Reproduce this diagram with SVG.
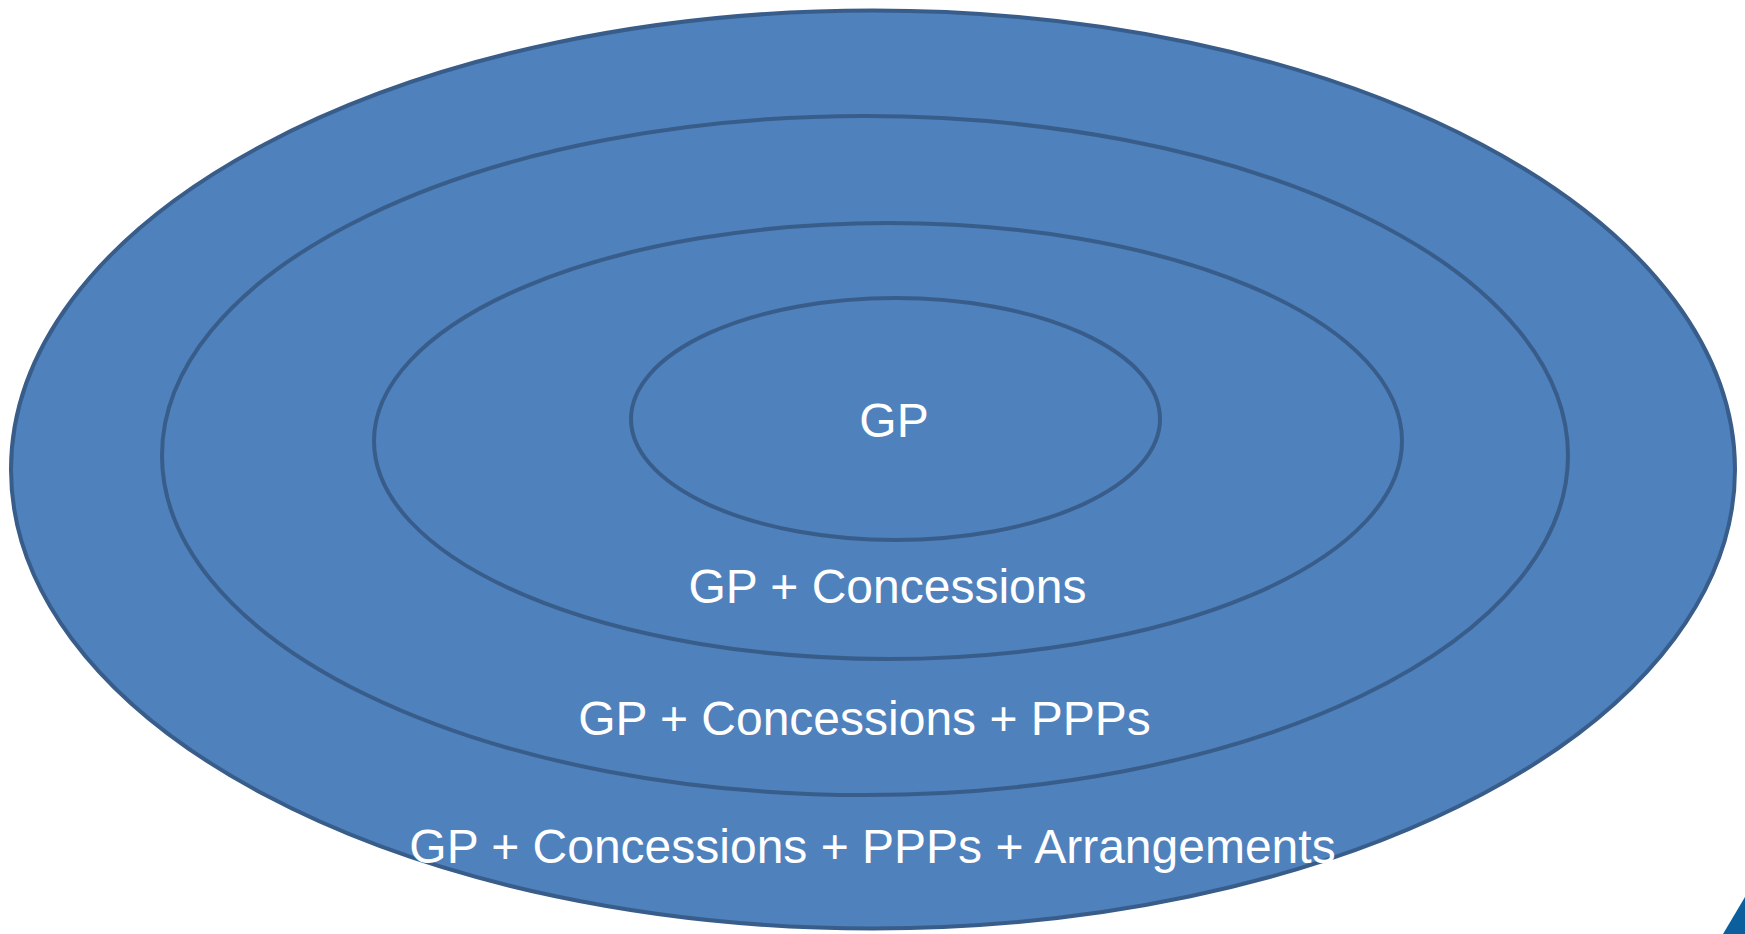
<svg xmlns="http://www.w3.org/2000/svg" width="1745" height="934" viewBox="0 0 1745 934">
<style>
.ring{fill:#4F81BD;stroke:#385D8A;stroke-width:4}
.lbl{font-family:"Liberation Sans",Arial,sans-serif;font-size:48px;fill:#FFFFFF;text-anchor:middle}
</style>
<rect width="1745" height="934" fill="#FFFFFF"/>
<g id="ring4">
<ellipse class="ring" cx="873" cy="469.5" rx="862" ry="459"/>
</g>
<g id="ring3">
<ellipse class="ring" cx="865" cy="455.5" rx="703" ry="339.5"/>
</g>
<g id="ring2">
<ellipse class="ring" cx="888" cy="441" rx="514" ry="218"/>
</g>
<g id="ring1">
<ellipse class="ring" cx="895.5" cy="419" rx="264.5" ry="121"/>
</g>
<g id="labels">
<text class="lbl" x="894" y="437">GP</text>
<text class="lbl" x="887.5" y="603">GP + Concessions</text>
<text class="lbl" x="864.5" y="734.5">GP + Concessions + PPPs</text>
<text class="lbl" x="872.5" y="862.5">GP + Concessions + PPPs + Arrangements</text>
</g>
<g id="connectors"></g>
<polygon points="1723,934 1745,897 1745,934" fill="#0A5F9C"/>
</svg>
